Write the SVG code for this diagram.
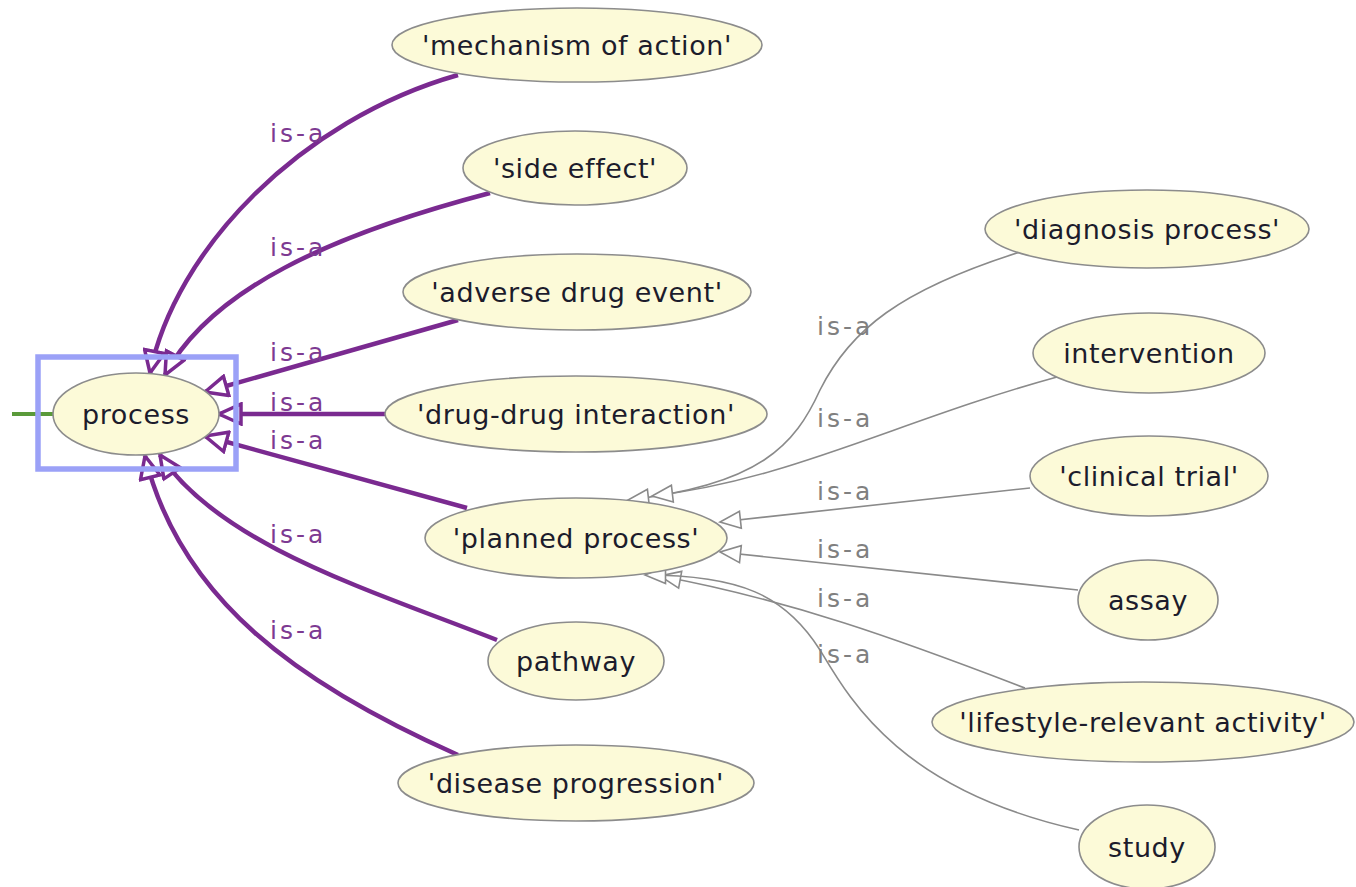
<svg xmlns="http://www.w3.org/2000/svg" width="1356" height="887" viewBox="0 0 1356 887">
<style>
.node ellipse{fill:#fcfad8;stroke:#8c8c8c;stroke-width:1.6}
.node text{font-family:"DejaVu Sans",sans-serif;font-size:27px;letter-spacing:0.6px;fill:#1c1c2c;text-anchor:middle}
.pe{fill:none;stroke:#7a2a90;stroke-width:4.5}
.ge{fill:none;stroke:#8a8a8a;stroke-width:1.6}
.pl{font-family:"DejaVu Sans",sans-serif;font-size:25px;letter-spacing:3px;fill:#7d3a92}
.gl{font-family:"DejaVu Sans",sans-serif;font-size:25px;letter-spacing:3px;fill:#808080}
</style>
<defs>
<marker id="ap" viewBox="0 0 26 24" refX="24" refY="12" markerWidth="26" markerHeight="24" markerUnits="userSpaceOnUse" orient="auto">
<path d="M2,2 L24,12 L2,22 Z" fill="#ffffff" stroke="#7a2a90" stroke-width="3.5"/>
</marker>
<marker id="ag" viewBox="0 0 24 20" refX="22" refY="10" markerWidth="24" markerHeight="20" markerUnits="userSpaceOnUse" orient="auto">
<path d="M1.5,1.5 L22,10 L1.5,18.5 Z" fill="#ffffff" stroke="#8a8a8a" stroke-width="1.6"/>
</marker>
</defs>
<rect width="1356" height="887" fill="#ffffff"/>
<g id="connectors">
<line x1="12" y1="414" x2="53" y2="414" stroke="#5a9a3a" stroke-width="4"/>
<path class="pe" d="M458,75 C300,120 175,250 150,373" marker-end="url(#ap)"/>
<path class="pe" d="M490,193 C330,235 210,290 165,375" marker-end="url(#ap)"/>
<path class="pe" d="M458,320 L205,392" marker-end="url(#ap)"/>
<path class="pe" d="M385,414 L219,414" marker-end="url(#ap)"/>
<path class="pe" d="M467,508 L205,436" marker-end="url(#ap)"/>
<path class="pe" d="M497,640 C370,590 220,545 160,455" marker-end="url(#ap)"/>
<path class="pe" d="M458,755 C300,685 180,600 145,456" marker-end="url(#ap)"/>
<path class="ge" d="M1020,252 C900,290 850,330 820,390 C795,445 760,485 628,500" marker-end="url(#ag)"/>
<path class="ge" d="M1057,377 C900,420 790,480 652,496" marker-end="url(#ag)"/>
<path class="ge" d="M1030,488 L720,522" marker-end="url(#ag)"/>
<path class="ge" d="M1078,590 L720,552" marker-end="url(#ag)"/>
<path class="ge" d="M1025,688 C900,640 790,600 660,576" marker-end="url(#ag)"/>
<path class="ge" d="M1079,830 C900,790 850,700 820,650 C785,595 740,575 645,575" marker-end="url(#ag)"/>
<text class="pl" x="270" y="142">is-a</text>
<text class="pl" x="270" y="256">is-a</text>
<text class="pl" x="270" y="361">is-a</text>
<text class="pl" x="270" y="411">is-a</text>
<text class="pl" x="270" y="449">is-a</text>
<text class="pl" x="270" y="543">is-a</text>
<text class="pl" x="270" y="639">is-a</text>
<text class="gl" x="817" y="335">is-a</text>
<text class="gl" x="817" y="427">is-a</text>
<text class="gl" x="817" y="500">is-a</text>
<text class="gl" x="817" y="558">is-a</text>
<text class="gl" x="817" y="607">is-a</text>
<text class="gl" x="817" y="663">is-a</text>
</g>
<g id="process" class="node"><ellipse cx="136" cy="414" rx="83" ry="41"/><text x="136" y="424">process</text></g>
<rect x="38" y="357" width="198" height="112" fill="none" stroke="#9ba1f7" stroke-width="5.5"/>
<g id="mechanism" class="node"><ellipse cx="577" cy="45" rx="185" ry="37"/><text x="577" y="55">'mechanism of action'</text></g>
<g id="side-effect" class="node"><ellipse cx="575" cy="168" rx="112" ry="37"/><text x="575" y="178">'side effect'</text></g>
<g id="adverse" class="node"><ellipse cx="577" cy="292" rx="174" ry="38"/><text x="577" y="302">'adverse drug event'</text></g>
<g id="ddi" class="node"><ellipse cx="576" cy="414" rx="191" ry="38"/><text x="576" y="424">'drug-drug interaction'</text></g>
<g id="planned" class="node"><ellipse cx="576" cy="538" rx="151" ry="40"/><text x="576" y="548">'planned process'</text></g>
<g id="pathway" class="node"><ellipse cx="576" cy="661" rx="88" ry="39"/><text x="576" y="671">pathway</text></g>
<g id="disease" class="node"><ellipse cx="576" cy="783" rx="178" ry="38"/><text x="576" y="793">'disease progression'</text></g>
<g id="diagnosis" class="node"><ellipse cx="1147" cy="229" rx="162" ry="39"/><text x="1147" y="239">'diagnosis process'</text></g>
<g id="intervention" class="node"><ellipse cx="1149" cy="353" rx="116" ry="40"/><text x="1149" y="363">intervention</text></g>
<g id="clinical" class="node"><ellipse cx="1149" cy="476" rx="119" ry="40"/><text x="1149" y="486">'clinical trial'</text></g>
<g id="assay" class="node"><ellipse cx="1148" cy="600" rx="70" ry="40"/><text x="1148" y="610">assay</text></g>
<g id="lifestyle" class="node"><ellipse cx="1143" cy="722" rx="211" ry="40"/><text x="1143" y="732">'lifestyle-relevant activity'</text></g>
<g id="study" class="node"><ellipse cx="1147" cy="847" rx="68" ry="42"/><text x="1147" y="857">study</text></g>
</svg>
